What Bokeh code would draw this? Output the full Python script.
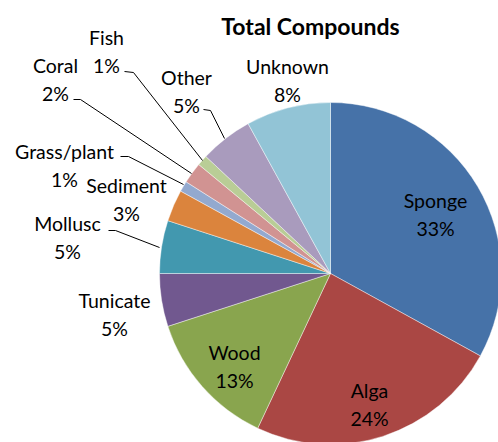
import math
from bokeh.plotting import figure
from bokeh.models import Range1d, ColumnDataSource
from bokeh.embed import file_html
from bokeh.resources import INLINE
from bokeh.core.properties import value

categories = ["Sponge", "Alga", "Wood", "Tunicate", "Mollusc", "Sediment",
              "Grass/plant", "Coral", "Fish", "Other", "Unknown"]
values = [33, 24, 13, 5, 5, 3, 1, 2, 1, 5, 8]
colors = ["#4672A8", "#AA4744", "#89A54E", "#71588F", "#4298AF", "#DB843D",
          "#93A9CF", "#D19392", "#B9CD96", "#A99BBD", "#92C4D6"]
title = "Total Compounds"

W, H = 498, 442
FONT = "Lato"
cx, cy, R = 330, H - 273, 171

total = sum(values)
starts, ends = [], []
cum = 0
for v in values:
    a0 = math.pi / 2 - 2 * math.pi * cum / total
    cum += v
    a1 = math.pi / 2 - 2 * math.pi * cum / total
    starts.append(a1)
    ends.append(a0)

src = ColumnDataSource(dict(cat=categories, val=values, color=colors,
                            start=starts, end=ends))

p = figure(width=W, height=H, x_range=Range1d(0, W), y_range=Range1d(0, H),
           output_backend="svg", toolbar_location=None, min_border=0)
p.axis.visible = False
p.grid.visible = False
p.outline_line_color = None

p.wedge(x=cx, y=cy, radius=R, start_angle="start", end_angle="end",
        fill_color="color", line_color="white", line_width=0.6, line_alpha=0.7,
        source=src)

# label layout (pixel positions, top-origin)
label_pos = {
    "Sponge": (435, 200), "Alga": (369, 390), "Wood": (234, 352),
    "Tunicate": (114, 300), "Mollusc": (67, 223), "Sediment": (126, 185),
    "Grass/plant": (64, 151), "Coral": (55, 65), "Fish": (106, 37),
    "Other": (186, 77), "Unknown": (287, 66),
}
gap = 28
nx, ny, pts, px, py = [], [], [], [], []
for c, v in zip(categories, values):
    x, y = label_pos[c]
    nx.append(x); ny.append(H - y)
    px.append(x); py.append(H - y - gap)
    pts.append(f"{v}%")

FS = "19.5px"
p.text(x=nx, y=ny, text=categories, text_font=value(FONT), text_font_size=FS,
       text_align="center", text_baseline="middle", text_color="#000000")
p.text(x=px, y=py, text=pts, text_font=value(FONT), text_font_size=FS,
       text_align="center", text_baseline="middle", text_color="#000000")

# leader lines
leaders = {
    "Other": [(203, 109), (210, 110), (224, 138)],
    "Fish": [(124, 71), (133, 72), (202, 160)],
    "Coral": [(73, 99), (80, 99), (191, 173)],
    "Grass/plant": [(120, 156), (128, 156), (183, 184)],
    "Mollusc": [(108, 230), (115, 230), (159, 247)],
}
xs = [[pt[0] for pt in pts_] for pts_ in leaders.values()]
ys = [[H - pt[1] for pt in pts_] for pts_ in leaders.values()]
p.multi_line(xs=xs, ys=ys, line_color="#000000", line_width=1)

p.text(x=[310], y=[H - 25], text=[title], text_font=value(FONT),
       text_font_size="23px", text_font_style="bold", text_align="center",
       text_baseline="middle", text_color="#000000")

open("out.html", "w").write(file_html(p, INLINE))
